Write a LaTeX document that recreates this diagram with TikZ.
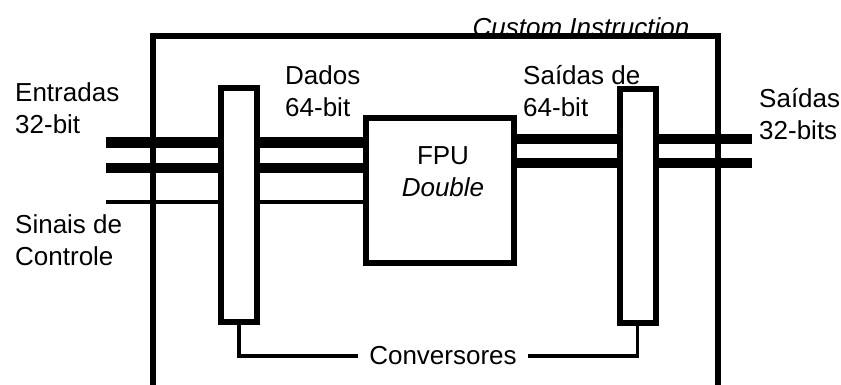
\documentclass[tikz,border=0pt]{standalone}
\usepackage{fontspec}
\setmainfont{Liberation Sans}
\usetikzlibrary{positioning}

\begin{document}
\begin{tikzpicture}[x=1pt, y=-1pt,
  font=\fontsize{26}{32}\selectfont,
  blk/.style={draw, line width=6pt, fill=white, inner sep=0pt},
  conv/.style={blk, minimum width=36pt, minimum height=233pt},
  bus/.style={line width=10.5pt},
  wire/.style={line width=3.5pt},
  lbl/.style={inner sep=0pt, align=left, anchor=west}]
\useasboundingbox (0,0) rectangle (841,385);
\clip (0,0) rectangle (841,385);
% custom instruction frame, its bottom runs off the page
\node[blk, fill=none, minimum width=565pt, minimum height=360pt] (ci) at (435.5,216) {};
\node[inner sep=0pt, font=\fontsize{26}{32}\selectfont\itshape] (citxt) at (581,27) {Custom Instruction};
\node[conv] (cvin) at (239,205) {};
\node[conv] (cvout) at (637.5,206) {};
\node[blk, minimum width=148pt, minimum height=145pt] (fpu) at (440,190.5) {};
\node[align=center, inner sep=0pt] (fputxt) at (443,171.5) {FPU\\\textit{Double}};
% bus ends
\coordinate (in1) at (106,142.5);
\coordinate (in2) at (106,168);
\coordinate (ctl) at (106,202);
\coordinate (out1) at (752,139);
\coordinate (out2) at (752,163);
\draw[bus] (in1) -- (cvin.west |- in1);
\draw[bus] (in2) -- (cvin.west |- in2);
\draw[bus] (cvin.east |- in1) -- (fpu.west |- in1);
\draw[bus] (cvin.east |- in2) -- (fpu.west |- in2);
\draw[wire] (ctl) -- (cvin.west |- ctl);
\draw[wire] (cvin.east |- ctl) -- (fpu.west |- ctl);
\draw[bus] (fpu.east |- out1) -- (cvout.west |- out1);
\draw[bus] (fpu.east |- out2) -- (cvout.west |- out2);
\draw[bus] (cvout.east |- out1) -- (out1);
\draw[bus] (cvout.east |- out2) -- (out2);
% labels
\node[lbl] (entradas) at (15,108) {Entradas\\32-bit};
\node[lbl] (sinais) at (15,240.5) {Sinais de\\Controle};
\node[lbl] (dados) at (285,91.5) {Dados\\64-bit};
\node[lbl] (saidas64) at (523,91.5) {Saídas de\\64-bit};
\node[lbl] (saidas32) at (759,114.5) {Saídas\\32-bits};
\node[inner xsep=11pt] (convtxt) at (443,356) {Conversores};
\draw[wire] (cvin.south) |- (convtxt.west);
\draw[wire] (cvout.south) |- (convtxt.east);
\end{tikzpicture}
\end{document}
